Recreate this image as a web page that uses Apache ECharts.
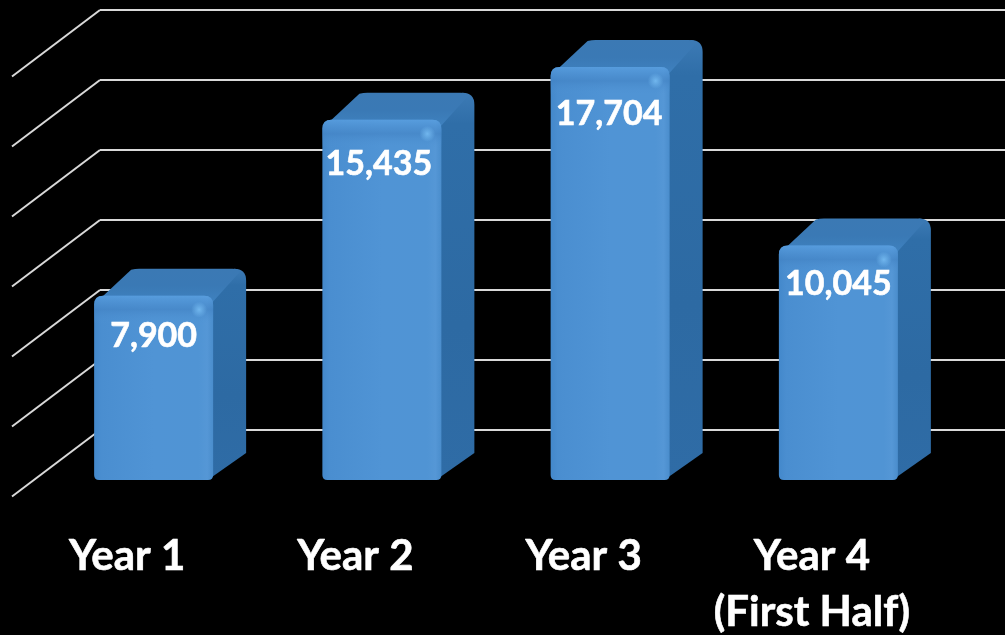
<!DOCTYPE html>
<html>
<head>
<meta charset="utf-8">
<style>html,body{margin:0;padding:0;background:#000}#c{width:1005px;height:635px}</style>
<script src="https://cdn.jsdelivr.net/npm/echarts@6/dist/echarts.min.js"></script>
</head>
<body>
<div id="c"></div>
<script>
const categories = ['Year 1', 'Year 2', 'Year 3', 'Year 4\n(First Half)'];
const values = [7900, 15435, 17704, 10045];
const valueLabels = ['7,900', '15,435', '17,704', '10,045'];
const gridTicks = [0, 3000, 6000, 9000, 12000, 15000, 18000];
const labelNudge = [[0, 40], [-3, 44], [-1, 47], [0, 38]];

const BAR_W = 119, DEPTH_X = 33, DEPTH_Y = -27;

function rrect(x, y, w, h, r, rb) {
  return `M${x + r} ${y}L${x + w - r} ${y}Q${x + w} ${y} ${x + w} ${y + r}L${x + w} ${y + h - rb}Q${x + w} ${y + h} ${x + w - rb} ${y + h}L${x + rb} ${y + h}Q${x} ${y + h} ${x} ${y + h - rb}L${x} ${y + r}Q${x} ${y} ${x + r} ${y}Z`;
}
const lin = (x, y, x2, y2, stops) => ({type: 'linear', x, y, x2, y2, colorStops: stops.map(s => ({offset: s[0], color: s[1]}))});

function renderBar(params, api) {
  const i = params.dataIndex;
  const top = api.coord([api.value(0), api.value(1)]);
  const base = api.coord([api.value(0), 0]);
  const x = top[0] - BAR_W / 2, y = top[1], bottom = base[1];
  const h = bottom - y, dx = DEPTH_X, dy = DEPTH_Y, xr = x + BAR_W;
  const sidePath = `M${xr - 8} ${y}L${xr + dx - 12} ${y + dy}Q${xr + dx} ${y + dy} ${xr + dx} ${y + dy + 12}L${xr + dx} ${bottom + dy}L${xr - 4} ${bottom - 1}Z`;
  const topPath = `M${x + 6} ${y + 3}L${x + dx + 4} ${y + dy + 1}Q${x + dx + 8} ${y + dy} ${x + dx + 12} ${y + dy}L${xr + dx - 14} ${y + dy}Q${xr + dx - 4} ${y + dy} ${xr + dx - 8} ${y + dy + 5}L${xr - 2} ${y + 8}Z`;
  return {
    type: 'group',
    children: [
      {type: 'path', shape: {pathData: sidePath},
        style: {fill: lin(0, 0, 0, 1, [[0, '#3c7ab5'], [0.08, '#2f6ea8'], [0.6, '#2d6aa3'], [1, '#2f6ca6']])}},
      {type: 'path', shape: {pathData: topPath},
        style: {fill: lin(0, 0, 0, 1, [[0, '#3b79b4'], [0.5, '#3a79b5'], [1, '#3f82c0']])}},
      {type: 'path', shape: {pathData: rrect(x, y, BAR_W, h, 9, 5)},
        style: {fill: lin(0, 0, 1, 0, [[0, '#4388cb'], [0.06, '#4a8ed0'], [0.5, '#5094d5'], [0.88, '#5094d4'], [0.95, '#5597d6'], [1, '#4a8dcc']])}},
      {type: 'path', shape: {pathData: rrect(x, y, BAR_W, 28, 9, 1)},
        style: {fill: lin(0, 0, 0, 1, [[0, 'rgba(90,160,225,0.7)'], [0.5, 'rgba(66,130,195,0.6)'], [1, 'rgba(80,148,213,0)']])}},
      {type: 'circle', shape: {cx: xr - 14, cy: y + 14, r: 8},
        style: {fill: {type: 'radial', x: 0.5, y: 0.5, r: 0.5, colorStops: [{offset: 0, color: 'rgba(115,185,240,0.95)'}, {offset: 1, color: 'rgba(115,185,240,0)'}]}}},
      {type: 'text', x: x + BAR_W / 2 + labelNudge[i][0], y: y + labelNudge[i][1],
        style: {text: valueLabels[i], fill: '#fff', stroke: '#fff', lineWidth: 0.6, font: 'bold 34px Lato', align: 'center', verticalAlign: 'middle'}}
    ]
  };
}

function renderSlant(params, api) {
  const p = api.coord([0, api.value(0)]);
  const x0 = params.coordSys.x;
  return {type: 'line', shape: {x1: x0, y1: p[1], x2: x0 - 88, y2: p[1] + 66.5},
    style: {stroke: '#d9d9d9', lineWidth: 2}};
}

const chart = echarts.init(document.getElementById('c'));
chart.setOption({
  animation: false,
  backgroundColor: '#000',
  grid: [
    {left: 100, top: 10, right: 0, height: 420},
    {left: 39.5, top: 60, width: 913, height: 420},
    {left: 13, top: 10, width: 913, height: 420, outerBoundsMode: 'none'}
  ],
  xAxis: [
    {type: 'category', gridIndex: 0, data: categories, show: false},
    {type: 'category', gridIndex: 1, data: categories, show: false},
    {type: 'category', gridIndex: 2, data: categories, axisLine: {show: false}, axisTick: {show: false},
      axisLabel: {color: '#fff', fontFamily: 'Lato', fontWeight: 'bold', fontSize: 42, lineHeight: 56, margin: 98, interval: 0, textBorderColor: '#fff', textBorderWidth: 0.6}}
  ],
  yAxis: [
    {type: 'value', gridIndex: 0, min: 0, max: 18000, interval: 3000, axisLabel: {show: false}, axisLine: {show: false}, axisTick: {show: false},
      splitLine: {show: true, lineStyle: {color: '#d9d9d9', width: 2}}},
    {type: 'value', gridIndex: 1, min: 0, max: 18000, show: false, splitLine: {show: false}},
    {type: 'value', gridIndex: 2, min: 0, max: 18000, show: false, splitLine: {show: false}}
  ],
  series: [
    {type: 'custom', xAxisIndex: 0, yAxisIndex: 0, z: 1, silent: true, clip: false, data: gridTicks.map(v => [v]), encode: {y: 0}, renderItem: renderSlant},
    {type: 'custom', xAxisIndex: 1, yAxisIndex: 1, z: 3, silent: true, clip: false, data: values.map((v, i) => [i, v]), encode: {x: 0, y: 1}, renderItem: renderBar}
  ]
});
</script>
</body>
</html>
